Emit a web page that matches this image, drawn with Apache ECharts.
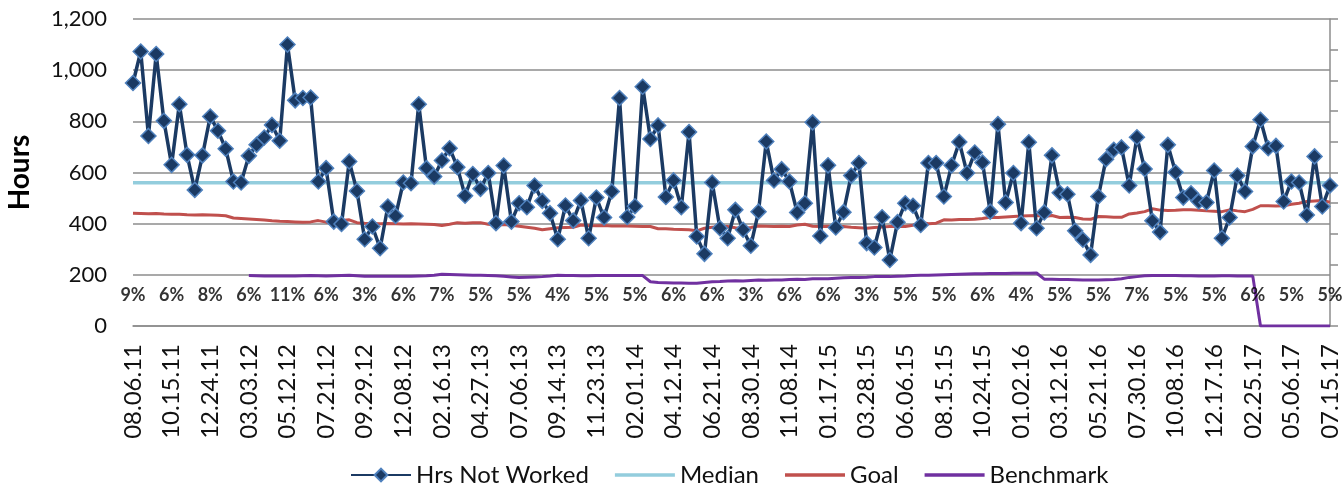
<!DOCTYPE html>
<html>
<head>
<meta charset="utf-8">
<script src="https://cdn.jsdelivr.net/npm/echarts@6/dist/echarts.min.js"></script>
<style>
  html, body { margin: 0; padding: 0; background: #fff; }
  #chart { width: 1342px; height: 489px; }
</style>
</head>
<body>
<div id="chart"></div>
<script>
// biweekly periods, first one ending 08.06.11
const firstDay = Date.UTC(2011, 7, 6);
const periodCount = 156;

const hrsNotWorked = [
  950, 1073, 743, 1063, 802, 630, 867, 669, 532, 667,
  819, 763, 693, 565, 561, 665, 708, 737, 786, 724,
  1100, 882, 891, 893, 565, 617, 408, 399, 643, 528,
  339, 389, 304, 467, 430, 561, 558, 867, 617, 584,
  647, 695, 621, 509, 594, 536, 598, 402, 627, 408,
  480, 464, 549, 489, 441, 339, 471, 412, 491, 343,
  502, 424, 526, 891, 426, 468, 935, 731, 784, 504,
  569, 464, 758, 350, 282, 561, 382, 343, 454, 376,
  314, 447, 721, 569, 613, 565, 444, 480, 796, 352,
  628, 385, 445, 588, 637, 324, 307, 425, 258, 406,
  480, 470, 395, 637, 637, 506, 628, 719, 598, 678,
  639, 447, 789, 483, 598, 402, 718, 382, 444, 667,
  521, 515, 372, 337, 278, 506, 652, 689, 698, 549,
  738, 614, 411, 367, 708, 601, 502, 519, 487, 483,
  608, 343, 424, 588, 526, 702, 806, 695, 704, 487,
  565, 561, 434, 663, 467, 549
];

const medianValue = 560;

const goal = [
  441, 440, 439, 440, 438, 437, 437, 435, 434, 435,
  434, 433, 431, 422, 420, 418, 416, 414, 411, 409,
  408, 407, 406, 407, 412, 406, 404, 412, 415, 404,
  402, 401, 400, 401, 400, 399, 400, 399, 398, 397,
  393, 398, 404, 402, 404, 404, 398, 395, 397, 394,
  390, 386, 382, 376, 380, 384, 385, 386, 395, 393,
  392, 393, 391, 391, 391, 390, 389, 389, 380, 380,
  378, 377, 376, 372, 382, 386, 388, 389, 384, 380,
  385, 391, 390, 389, 390, 389, 395, 398, 390, 389,
  390, 387, 389, 386, 384, 382, 385, 387, 389, 389,
  389, 394, 406, 400, 402, 415, 414, 416, 416, 417,
  420, 425, 424, 426, 428, 430, 431, 432, 428, 432,
  424, 425, 424, 418, 417, 428, 427, 425, 425, 438,
  442, 447, 458, 453, 451, 452, 454, 454, 452, 450,
  449, 447, 454, 450, 447, 456, 470, 470, 469, 470,
  476, 480, 487, 489, 491, 484
];

// benchmark starts at 03.03.12 (period 15)
const benchmark = [
  null, null, null, null, null, null, null, null, null, null,
  null, null, null, null, null, 197, 196, 195, 195, 195,
  195, 195, 196, 197, 196, 195, 196, 197, 198, 196,
  194, 194, 194, 194, 194, 194, 194, 195, 196, 198,
  202, 201, 200, 199, 198, 198, 197, 196, 194, 192,
  190, 191, 192, 193, 195, 198, 197, 197, 196, 196,
  197, 197, 197, 197, 197, 197, 197, 173, 170, 169,
  168, 168, 167, 167, 170, 173, 174, 176, 177, 176,
  178, 180, 179, 180, 180, 182, 183, 182, 185, 185,
  185, 187, 189, 190, 190, 191, 193, 193, 193, 194,
  195, 197, 198, 198, 199, 200, 201, 202, 203, 204,
  204, 205, 205, 205, 206, 206, 206, 207, 183, 183,
  182, 182, 181, 180, 180, 180, 181, 182, 185, 190,
  193, 196, 197, 197, 197, 197, 196, 196, 195, 195,
  195, 196, 196, 195, 195, 195, 0, 0, 0, 0,
  0, 0, 0, 0, 0, 0
];

// percentage shown under every labelled period
const pctLabels = [
  "9%", "6%", "8%", "6%", "11%", "6%", "3%", "6%", "7%", "5%",
  "5%", "4%", "5%", "5%", "6%", "6%", "3%", "6%", "6%", "3%",
  "5%", "5%", "6%", "4%", "5%", "5%", "7%", "5%", "5%", "6%",
  "5%", "5%"
];
const labelEvery = 5;

const yTicks = { min: 0, max: 1200, interval: 200 };

function fmtDate(ms) {
  const d = new Date(ms);
  const p = (n) => String(n).padStart(2, "0");
  return p(d.getUTCMonth() + 1) + "." + p(d.getUTCDate()) + "." + p(d.getUTCFullYear() % 100);
}

const categories = [];
for (let i = 0; i < periodCount; i++) categories.push(fmtDate(firstDay + i * 14 * 86400000));

const pctData = categories.map((c, i) => (i % labelEvery === 0 ? 1 : "-"));

const FONT = "Lato, 'Noto Sans', sans-serif";
const gridColor = "#8c8c8c";
const lineIcon = "path://M0,0h18v1h-18z";

const chart = echarts.init(document.getElementById("chart"), null, { renderer: "canvas" });
chart.setOption({
  animation: false,
  textStyle: { fontFamily: FONT, color: "#000" },
  grid: { left: 133, right: 12, top: 19, bottom: 163, outerBoundsMode: "none" },
  legend: {
    data: [
      { name: "Hrs Not Worked" },
      { name: "Median", icon: lineIcon },
      { name: "Goal", icon: lineIcon },
      { name: "Benchmark", icon: lineIcon },
    ],
    left: 345,
    top: 458,
    itemWidth: 60,
    itemHeight: 16,
    itemGap: 26,
    textStyle: { fontFamily: FONT, fontSize: 24, color: "#111" },
  },
  xAxis: {
    type: "category",
    data: categories,
    boundaryGap: false,
    axisLine: { show: true, lineStyle: { color: gridColor, width: 1.5 } },
    axisTick: { show: false },
    axisLabel: {
      interval: labelEvery - 1,
      rotate: 90,
      margin: 18,
      fontSize: 24,
      color: "#111",
      fontFamily: FONT,
    },
    splitLine: { show: false },
  },
  yAxis: [
    {
      type: "value",
      min: yTicks.min,
      max: yTicks.max,
      interval: yTicks.interval,
      name: "Hours",
      nameLocation: "middle",
      nameGap: 99,
      nameRotate: 90,
      nameTextStyle: { fontSize: 28, fontWeight: "bold", color: "#000", fontFamily: FONT },
      axisLine: { show: false },
      axisTick: { show: false },
      axisLabel: {
        margin: 26,
        fontSize: 22,
        color: "#111",
        fontFamily: FONT,
        formatter: (v) => v.toLocaleString("en-US"),
      },
      splitLine: { lineStyle: { color: gridColor, width: 1.5 } },
    },
    {
      type: "value",
      position: "right",
      min: 0,
      max: 10,
      interval: 1,
      axisLine: { show: true, lineStyle: { color: gridColor, width: 1.5 } },
      axisTick: { show: true, inside: false, length: 8, lineStyle: { color: gridColor, width: 1.5 } },
      axisLabel: { show: false },
      splitLine: { show: false },
    },
  ],
  series: [
    {
      name: "Median",
      type: "line",
      data: categories.map(() => medianValue),
      symbol: "none",
      lineStyle: { color: "#93cddd", width: 3.5 },
      itemStyle: { color: "#93cddd" },
      z: 3,
    },
    {
      name: "Goal",
      type: "line",
      data: goal,
      symbol: "none",
      lineStyle: { color: "#c0504d", width: 3 },
      itemStyle: { color: "#c0504d" },
      z: 3,
    },
    {
      name: "Benchmark",
      type: "line",
      data: benchmark,
      symbol: "none",
      lineStyle: { color: "#7030a0", width: 3 },
      itemStyle: { color: "#7030a0" },
      z: 3,
    },
    {
      name: "Hrs Not Worked",
      type: "line",
      data: hrsNotWorked,
      symbol: "diamond",
      symbolSize: 15,
      showAllSymbol: true,
      lineStyle: { color: "#1b3a63", width: 3.5 },
      itemStyle: { color: "#1b3a63", borderColor: "#4f81bd", borderWidth: 1.5 },
      z: 4,
    },
    {
      name: "Pct",
      type: "scatter",
      yAxisIndex: 1,
      data: pctData,
      symbolSize: 1,
      silent: true,
      itemStyle: { color: "rgba(0,0,0,0)" },
      label: {
        show: true,
        position: "inside",
        fontSize: 18,
        fontWeight: "bold",
        color: "#000",
        fontFamily: FONT,
        formatter: (p) => pctLabels[p.dataIndex / labelEvery],
      },
      z: 5,
    },
  ],
});
</script>
</body>
</html>
